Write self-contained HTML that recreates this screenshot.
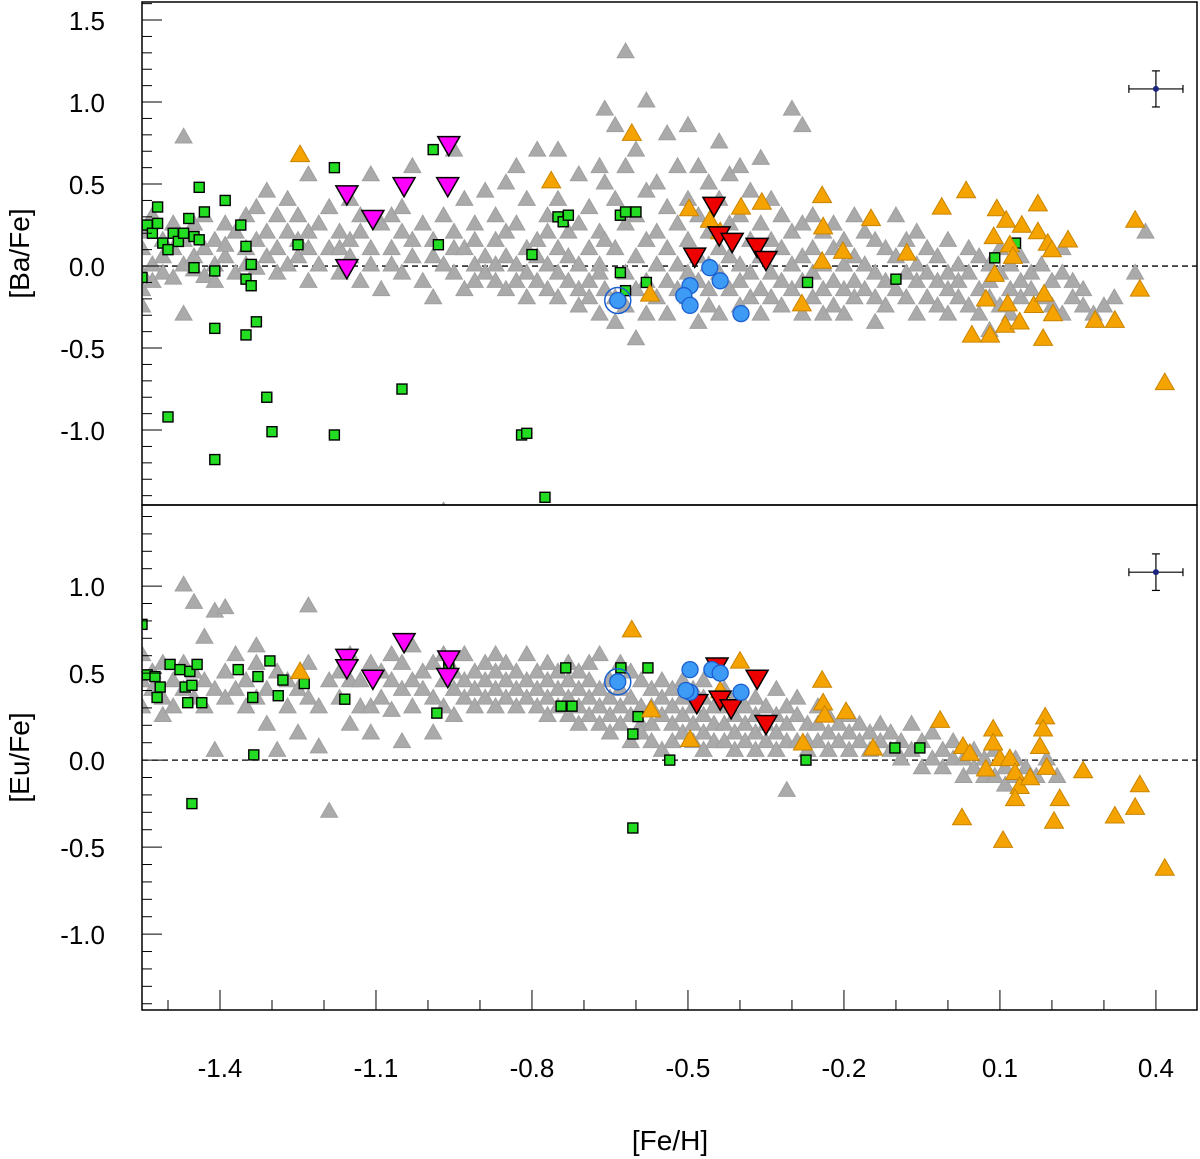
<!DOCTYPE html>
<html><head><meta charset="utf-8"><style>
html,body{margin:0;padding:0;background:#fff;}
svg{display:block;font-family:"Liberation Sans",sans-serif;}
</style></head><body>
<svg id="chart" width="1200" height="1159" viewBox="0 0 1200 1159" xmlns="http://www.w3.org/2000/svg"></svg>
<script>
// ---------- data ----------
const xTicks = [-1.4, -1.1, -0.8, -0.5, -0.2, 0.1, 0.4];
const xTickLabels = ["-1.4", "-1.1", "-0.8", "-0.5", "-0.2", "0.1", "0.4"];
const yTicksTop = [1.5, 1.0, 0.5, 0.0, -0.5, -1.0];
const yTickLabelsTop = ["1.5", "1.0", "0.5", "0.0", "-0.5", "-1.0"];
const yTicksBot = [1.0, 0.5, 0.0, -0.5, -1.0];
const yTickLabelsBot = ["1.0", "0.5", "0.0", "-0.5", "-1.0"];

// gray field stars: [Fe/H, [values]]
const grayBa = [
[-1.55,[0.1,-0.05,0.2,-0.15,-0.25]],[-1.53,[0.0,0.3,-0.1]],[-1.51,[0.15,0.05,-0.05]],[-1.49,[0.25,0.1,-0.08]],
[-1.47,[0.78,0.0,0.15,-0.3]],[-1.45,[0.05,-0.03,0.25]],[-1.43,[0.1,-0.07,0.3]],[-1.41,[0.15,0.0,-0.1]],
[-1.39,[0.25,0.05,0.12]],[-1.37,[0.2,-0.05]],[-1.35,[0.3,0.1,0.0]],[-1.33,[0.35,0.15,-0.02]],
[-1.31,[0.45,0.2,0.05]],[-1.29,[0.3,0.1,-0.05]],[-1.27,[0.4,0.2,0.0]],[-1.25,[0.3,0.05,0.15]],
[-1.23,[0.55,0.2,0.1,-0.1]],[-1.21,[0.25,0.0]],[-1.19,[0.35,0.1]],[-1.17,[0.2,-0.05,0.1]],
[-1.15,[0.4,0.15,0.05]],[-1.13,[0.2,-0.1,0.3]],[-1.11,[0.55,0.1,0.0]],[-1.09,[0.25,-0.15]],
[-1.07,[0.3,0.1,0.0]],[-1.05,[0.2,-0.05,0.35]],[-1.03,[0.6,0.15,0.05]],[-1.01,[0.25,-0.1]],
[-0.99,[0.15,0.05,-0.2]],[-0.97,[-1.5,0.3,0.0]],[-0.95,[0.7,0.2,-0.05,0.1]],[-0.93,[0.4,0.1,-0.15]],
[-0.91,[0.25,0.0,-0.1,0.15]],[-0.89,[0.45,0.05,-0.05]],[-0.87,[0.3,0.15,-0.1,0.0]],[-0.85,[0.5,0.2,-0.15,0.05]],
[-0.83,[0.6,0.25,0.0,-0.1]],[-0.81,[0.4,0.1,-0.05,-0.2]],[-0.79,[0.7,0.15,-0.1,0.05]],[-0.77,[0.3,0.0,-0.15,0.2]],
[-0.75,[0.7,0.4,0.1,-0.05,-0.2]],[-0.73,[0.2,-0.1,0.05]],[-0.71,[0.55,0.25,0.0,-0.15,-0.25]],[-0.69,[0.35,0.1,-0.1,-0.2]],
[-0.67,[0.6,0.2,0.0,-0.05,-0.3]],[-0.66,[0.95,0.5,0.15,-0.15]],[-0.64,[0.85,0.4,0.1,-0.2,-0.35]],[-0.62,[1.3,0.6,0.25,-0.05,-0.25]],
[-0.60,[0.7,0.3,0.05,-0.15,-0.45]],[-0.58,[1.0,0.45,0.15,-0.1,-0.3]],[-0.56,[0.5,0.2,0.0,-0.2]],[-0.54,[0.8,0.35,0.1,-0.1,-0.3]],
[-0.52,[0.6,0.25,0.0,-0.15]],[-0.50,[0.85,0.4,0.15,-0.05,-0.2]],[-0.48,[0.6,0.3,0.05,-0.1,-0.35]],[-0.46,[0.5,0.2,0.0,-0.15,-0.25]],
[-0.44,[0.75,0.4,0.1,-0.05,-0.3]],[-0.42,[0.55,0.25,0.05,-0.15]],[-0.40,[0.6,0.3,0.0,-0.1,-0.25]],[-0.38,[0.45,0.15,-0.05,-0.2]],
[-0.36,[0.65,0.25,0.05,-0.15,-0.3]],[-0.34,[0.4,0.15,-0.05,-0.2]],[-0.32,[0.3,0.1,-0.1,-0.25]],[-0.30,[0.95,0.2,0.0,-0.15]],
[-0.28,[0.85,0.25,0.05,-0.1,-0.3]],[-0.26,[0.3,0.1,-0.05,-0.2]],[-0.24,[0.2,0.0,-0.15,-0.3]],[-0.22,[0.25,0.1,-0.1,-0.25]],
[-0.20,[0.15,0.0,-0.15,-0.3]],[-0.18,[0.3,0.05,-0.1,-0.2]],[-0.16,[0.2,0.0,-0.15]],[-0.14,[0.15,-0.05,-0.2,-0.35]],
[-0.12,[0.1,-0.1,-0.25]],[-0.10,[0.3,0.05,-0.15]],[-0.08,[0.15,-0.05,-0.2]],[-0.06,[0.2,0.0,-0.1,-0.3]],
[-0.04,[0.1,-0.05,-0.2]],[-0.02,[0.05,-0.1,-0.25]],[0.0,[0.15,-0.05,-0.15,-0.3]],[0.02,[0.0,-0.1,-0.2]],
[0.04,[0.1,-0.05,-0.25]],[0.06,[0.05,-0.15,-0.3]],[0.08,[0.0,-0.1,-0.2,-0.4]],[0.10,[0.1,-0.05,-0.25]],
[0.12,[0.0,-0.15,-0.3]],[0.14,[0.05,-0.1,-0.2]],[0.16,[-0.05,-0.15]],[0.18,[0.0,-0.2]],
[0.20,[-0.1,-0.25]],[0.22,[0.1,-0.05,-0.3]],[0.24,[-0.1,-0.2]],[0.26,[-0.15,-0.25]],
[0.28,[-0.3]],[0.30,[-0.25]],[0.32,[-0.2]],[0.36,[-0.05]],[0.38,[0.2]]
];
const grayEu = [
[-1.55,[0.45,0.3,0.6]],[-1.53,[0.4,0.5]],[-1.51,[0.35,0.55,0.25]],[-1.49,[0.45,0.3]],
[-1.47,[1.0,0.4,0.55]],[-1.45,[0.9,0.35,0.5]],[-1.43,[0.7,0.45,0.3]],[-1.41,[0.85,0.4,0.05]],
[-1.39,[0.87,0.5,0.35]],[-1.37,[0.6,0.4]],[-1.35,[0.45,0.3]],[-1.33,[0.55,0.35,0.65]],
[-1.31,[0.4,0.2]],[-1.29,[0.5,0.05]],[-1.27,[0.45,0.3]],[-1.25,[0.4,0.15]],
[-1.23,[0.88,0.55,0.35]],[-1.21,[0.3,0.07]],[-1.19,[-0.3,0.45]],[-1.17,[0.5,0.35]],
[-1.15,[0.6,0.45,0.2]],[-1.13,[0.45,0.3]],[-1.11,[0.55,0.3,0.15]],[-1.09,[0.5,0.35]],
[-1.07,[0.6,0.45,0.28]],[-1.05,[0.55,0.4,0.1]],[-1.03,[0.65,0.45,0.3]],[-1.01,[0.5,0.4]],
[-0.99,[0.55,0.35,0.15]],[-0.97,[0.45,0.3,0.6]],[-0.95,[0.5,0.4,0.25]],[-0.93,[0.6,0.35,0.45]],
[-0.91,[0.5,0.4,0.3]],[-0.89,[0.55,0.45,0.35]],[-0.87,[0.5,0.4,0.3,0.6]],[-0.85,[0.45,0.35,0.55]],
[-0.83,[0.5,0.4,0.3]],[-0.81,[0.45,0.35,0.6]],[-0.79,[0.5,0.4,0.3]],[-0.77,[0.45,0.35,0.25,0.55]],
[-0.75,[0.5,0.4,0.3]],[-0.73,[0.45,0.35,0.25,0.55]],[-0.71,[0.5,0.4,0.3,0.2]],[-0.69,[0.45,0.35,0.25,0.55]],
[-0.67,[0.6,0.4,0.3,0.2]],[-0.65,[0.45,0.35,0.25,0.15]],[-0.63,[0.55,0.4,0.3,0.2]],[-0.61,[0.5,0.35,0.25,0.1]],
[-0.59,[0.45,0.3,0.2,0.15]],[-0.57,[0.4,0.3,0.2,0.1]],[-0.55,[0.45,0.35,0.25,0.05]],[-0.53,[0.4,0.3,0.2,0.1]],
[-0.51,[0.35,0.25,0.15,0.45]],[-0.49,[0.4,0.3,0.2,0.1]],[-0.47,[0.45,0.35,0.25,0.15,0.05]],[-0.45,[0.3,0.2,0.1]],
[-0.43,[0.4,0.3,0.2,0.1]],[-0.41,[0.35,0.25,0.15,0.05]],[-0.39,[0.3,0.2,0.1]],[-0.37,[0.35,0.25,0.15,0.05]],
[-0.35,[0.3,0.2,0.1]],[-0.33,[0.4,0.25,0.15,0.05]],[-0.31,[0.3,0.2,0.1,-0.18]],[-0.29,[0.35,0.25,0.1]],
[-0.27,[0.2,0.1,0.05]],[-0.25,[0.3,0.2,0.1]],[-0.23,[0.25,0.15,0.05]],[-0.21,[0.2,0.1]],
[-0.19,[0.25,0.15,0.05]],[-0.17,[0.2,0.1]],[-0.15,[0.15,0.05]],[-0.13,[0.2,0.1]],
[-0.11,[0.15,0.05]],[-0.09,[0.1,0.0]],[-0.07,[0.2,0.05]],[-0.05,[0.1,-0.05]],
[-0.03,[0.15,0.0]],[-0.01,[0.05,-0.05]],[0.01,[0.1,0.0]],[0.03,[0.0,-0.1]],
[0.05,[0.05,-0.05]],[0.07,[0.0,-0.1]],[0.09,[0.05,-0.1]],[0.11,[-0.05,-0.15]],
[0.13,[0.0,-0.1]],[0.15,[-0.05]],[0.17,[-0.1]],[0.19,[0.0]],[0.21,[-0.1]]
];

const greenFeTop = [-1.55,-1.54,-1.53,-1.52,-1.52,-1.51,-1.5,-1.49,-1.48,-1.47,-1.46,-1.45,-1.44,-1.43,-1.44,-1.45,-1.5,-1.39,-1.41,-1.41,-1.41,-1.36,-1.35,-1.34,-1.35,-1.34,-1.33,-1.35,-1.31,-1.3,-1.25,-1.18,-1.18,-1.05,-0.99,-0.98,-0.8,-0.82,-0.81,-0.775,-0.75,-0.74,-0.73,-0.63,-0.62,-0.6,-0.63,-0.62,-0.58,-0.27,-0.1,0.09,0.13];
const greenBa = [-0.07,0.25,0.2,0.36,0.26,0.14,0.1,0.2,0.15,0.2,0.29,0.18,0.48,0.33,0.16,-0.01,-0.92,0.4,-0.03,-0.38,-1.18,0.25,0.12,0.01,-0.08,-0.12,-0.34,-0.42,-0.8,-1.01,0.13,0.6,-1.03,-0.75,0.71,0.13,0.07,-1.03,-1.02,-1.41,0.3,0.27,0.31,0.31,0.33,0.33,-0.04,-0.15,-0.1,-0.1,-0.08,0.05,0.14];
const orangeFeTop = [-1.246,-0.763,-0.608,-0.573,-0.498,-0.458,-0.438,-0.398,-0.358,-0.242,-0.24,-0.242,-0.281,-0.202,-0.148,-0.079,-0.012,0.035,0.094,0.088,0.112,0.119,0.142,0.173,0.173,0.192,0.231,0.125,0.09,0.073,0.046,0.081,0.11,0.138,0.165,0.115,0.185,0.202,0.183,0.283,0.321,0.36,0.369,0.417,0.2];
const orangeBa = [0.67,0.51,0.80,-0.18,0.34,0.27,0.20,0.35,0.38,0.42,0.23,0.02,-0.24,0.08,0.28,0.07,0.35,0.45,0.34,0.17,0.27,0.12,0.24,0.37,0.20,0.13,0.15,0.05,-0.06,-0.21,-0.43,-0.43,-0.37,-0.35,-0.25,-0.24,-0.18,-0.30,-0.45,-0.34,-0.34,0.27,-0.15,-0.72,0.09];
const magentaFeTop = [-0.96,-1.156,-1.106,-1.046,-0.962,-1.156];
const magentaBa = [0.75,0.45,0.30,0.50,0.50,0.0];
const redFeTop = [-0.45,-0.487,-0.44,-0.415,-0.367,-0.35];
const redBa = [0.38,0.07,0.20,0.16,0.13,0.05];
const blueFeTop = [-0.458,-0.496,-0.438,-0.508,-0.496,-0.398];
const blueBa = [-0.01,-0.12,-0.09,-0.18,-0.24,-0.29];
const bigFe = -0.635, bigBa = -0.21, bigEu = 0.45;

const greenFeBot = [-1.55,-1.54,-1.525,-1.521,-1.496,-1.477,-1.458,-1.444,-1.467,-1.454,-1.435,-1.462,-1.515,-1.454,-1.365,-1.337,-1.304,-1.279,-1.327,-1.288,-1.335,-1.238,-1.16,-0.96,-0.983,-0.735,-0.744,-0.723,-0.629,-0.577,-0.596,-0.606,-0.535,-0.606,-0.273,-0.102,-0.054];
const greenEu = [0.78,0.49,0.48,0.36,0.55,0.52,0.51,0.55,0.42,0.43,0.33,0.33,0.42,-0.25,0.52,0.36,0.57,0.46,0.48,0.37,0.03,0.44,0.35,0.55,0.27,0.53,0.31,0.31,0.53,0.53,0.25,0.15,0.0,-0.39,0.0,0.07,0.07];
const orangeFeBot = [-1.246,-0.608,-0.571,-0.496,-0.4,-0.438,-0.242,-0.24,-0.237,-0.279,-0.196,-0.144,-0.015,0.029,0.042,0.087,0.073,0.027,0.106,0.1,0.119,0.129,0.138,0.158,0.177,0.187,0.183,0.19,0.215,0.204,0.129,0.087,0.321,0.36,0.369,0.417,0.26];
const orangeEu = [0.50,0.74,0.28,0.11,0.56,0.39,0.45,0.32,0.25,0.09,0.27,0.06,0.22,0.07,0.03,0.17,-0.06,-0.34,-0.47,0.0,0.0,-0.08,-0.16,-0.11,0.07,0.24,0.17,-0.05,-0.23,-0.36,-0.23,0.09,-0.33,-0.28,-0.15,-0.63,-0.07];
const magentaFeBot = [-1.156,-1.156,-1.106,-1.046,-0.96,-0.962];
const magentaEu = [0.6,0.54,0.48,0.69,0.59,0.49];
const redFeBot = [-0.483,-0.444,-0.438,-0.417,-0.367,-0.35];
const redEu = [0.34,0.55,0.36,0.31,0.48,0.22];
const blueFeBot = [-0.496,-0.454,-0.496,-0.504,-0.438,-0.398];
const blueEu = [0.52,0.52,0.39,0.40,0.50,0.39];
const errFe = 0.4, errBa = 1.08, errEu = 1.08, errX = 0.052, errYTop = 0.11, errYBot = 0.105;

// ---------- scales ----------
const L = 142, R = 1197;
const xMin = -1.55, xMax = 0.479;
function X(v){ return L + (v - xMin) / (xMax - xMin) * (R - L); }
const TOP = {y0:2, y1:505, vMax:1.61, vMin:-1.457};
const BOT = {y0:505, y1:1010, vMax:1.466, vMin:-1.436};
function Y(p, v){ return p.y0 + (p.vMax - v) / (p.vMax - p.vMin) * (p.y1 - p.y0); }

const svg = document.getElementById('chart');
const NS = 'http://www.w3.org/2000/svg';
function el(tag, attrs, parent){
  const e = document.createElementNS(NS, tag);
  for (const k in attrs) e.setAttribute(k, attrs[k]);
  (parent || svg).appendChild(e);
  return e;
}
function triUp(g, x, y, s, fill, stroke, name){
  const h = s * 0.87;
  const e = el('polygon', {points:`${x-s/2},${y+h/3} ${x+s/2},${y+h/3} ${x},${y-2*h/3}`, fill:fill, stroke:stroke, 'stroke-width':1}, g);
  
  
}
function triDown(g, x, y, s, fill, name){
  const h = s * 0.87;
  const e = el('polygon', {points:`${x-s/2},${y-h/3} ${x+s/2},${y-h/3} ${x},${y+2*h/3}`, fill:fill, stroke:'#000', 'stroke-width':1.5}, g);
  
  
}
function square(g, x, y, name){
  const e = el('rect', {x:x-5, y:y-5, width:10, height:10, fill:'#22dd22', stroke:'#000', 'stroke-width':1.4}, g);
  
  
}
function circle(g, x, y, name){
  const e = el('circle', {cx:x, cy:y, r:8, fill:'#3d9af5', stroke:'#1a5fd0', 'stroke-width':1.3}, g);
  
  
}

function panel(p, name, gray, gFe, gV, oFe, oV, mFe, mV, rFe, rV, bFe, bV, bigV, errV, errY, ticks, tickLabels, ylabel){
  const g = el('g', {});
  
  
  const clipId = name + '-clip';
  const cp = el('clipPath', {id:clipId}, g);
  el('rect', {x:L, y:p.y0, width:R-L, height:p.y1-p.y0}, cp);
  const marks = el('g', {'clip-path':`url(#${clipId})`}, g);
  
  
  const z = el('line', {x1:L, x2:R, y1:Y(p,0), y2:Y(p,0), stroke:'#000', 'stroke-width':1.3, 'stroke-dasharray':'6,4'}, marks);
  
  
  gray.forEach(([fe, vals]) => vals.forEach(v => triUp(marks, X(fe), Y(p, v), 17, '#aaaaaa', '#a0a0a0', 'gray-field-star')));
  gFe.forEach((fe, i) => square(marks, X(fe), Y(p, gV[i]), 'green-square-star'));
  oFe.forEach((fe, i) => triUp(marks, X(fe), Y(p, oV[i]), 19, '#f5a300', '#c98400', 'orange-triangle-star'));
  mFe.forEach((fe, i) => triDown(marks, X(fe), Y(p, mV[i]), 22, '#ff00ff', 'magenta-triangle-star'));
  rFe.forEach((fe, i) => triDown(marks, X(fe), Y(p, rV[i]), 22, '#ee0000', 'red-triangle-star'));
  bFe.forEach((fe, i) => circle(marks, X(fe), Y(p, bV[i]), 'blue-circle-star'));
  const bx = X(bigFe), by = Y(p, bigV);
  const ring = el('circle', {cx:bx, cy:by, r:13, fill:'none', stroke:'#1a5fd0', 'stroke-width':1.5}, marks);
  
  
  circle(marks, bx, by, 'mean-circle');
  const eg = el('g', {stroke:'#000', 'stroke-width':1.2}, g);
  
  
  const ex = X(errFe), ey = Y(p, errV), x1 = X(errFe - errX), x2 = X(errFe + errX), y1 = Y(p, errV + errY), y2 = Y(p, errV - errY);
  el('line', {x1:x1, x2:x2, y1:ey, y2:ey}, eg);
  el('line', {x1:ex, x2:ex, y1:y1, y2:y2}, eg);
  el('line', {x1:x1, x2:x1, y1:ey-4, y2:ey+4}, eg);
  el('line', {x1:x2, x2:x2, y1:ey-4, y2:ey+4}, eg);
  el('line', {x1:ex-4, x2:ex+4, y1:y1, y2:y1}, eg);
  el('line', {x1:ex-4, x2:ex+4, y1:y2, y2:y2}, eg);
  el('circle', {cx:ex, cy:ey, r:3, fill:'#1a237e', stroke:'none'}, eg);
  const fr = el('rect', {x:L, y:p.y0, width:R-L, height:p.y1-p.y0, fill:'none', stroke:'#000', 'stroke-width':1.5}, g);
  
  
  for (let v = Math.ceil(p.vMin*10)/10; v <= p.vMax + 1e-9; v += 0.1) {
    const yy = Y(p, v);
    const major = Math.abs(Math.round(v*2) - v*2) < 1e-6;
    el('line', {x1:L, x2:L + (major ? 20 : 10), y1:yy, y2:yy, stroke:'#000', 'stroke-width':1}, g);
  }
  ticks.forEach((v, i) => {
    const t = el('text', {x:105, y:Y(p, v) + 10, 'text-anchor':'end', 'font-size':26, fill:'#000'}, g);
    t.textContent = tickLabels[i];
    
    
  });
  const yl = el('text', {x:0, y:0, transform:`translate(29,${(p.y0+p.y1)/2}) rotate(-90)`, 'text-anchor':'middle', 'font-size':28, fill:'#000'}, g);
  yl.textContent = ylabel;
  
  
}

panel(TOP, 'ba-panel', grayBa, greenFeTop, greenBa, orangeFeTop, orangeBa, magentaFeTop, magentaBa, redFeTop, redBa, blueFeTop, blueBa, bigBa, errBa, errYTop, yTicksTop, yTickLabelsTop, '[Ba/Fe]');
panel(BOT, 'eu-panel', grayEu, greenFeBot, greenEu, orangeFeBot, orangeEu, magentaFeBot, magentaEu, redFeBot, redEu, blueFeBot, blueEu, bigEu, errEu, errYBot, yTicksBot, yTickLabelsBot, '[Eu/Fe]');

// x axis
const xg = el('g', {});


for (let v = -1.5; v <= 0.45 + 1e-9; v += 0.1) {
  const xx = X(v);
  const major = xTicks.some(t => Math.abs(t - v) < 1e-6);
  el('line', {x1:xx, x2:xx, y1:1010, y2:1010 - (major ? 20 : 10), stroke:'#000', 'stroke-width':1}, xg);
}
xTicks.forEach((v, i) => {
  const t = el('text', {x:X(v), y:1077, 'text-anchor':'middle', 'font-size':26, fill:'#000'}, xg);
  t.textContent = xTickLabels[i];
  
  
});
const xt = el('text', {x:670, y:1150, 'text-anchor':'middle', 'font-size':28, fill:'#000'}, xg);
xt.textContent = '[Fe/H]';


</script>
</body></html>
